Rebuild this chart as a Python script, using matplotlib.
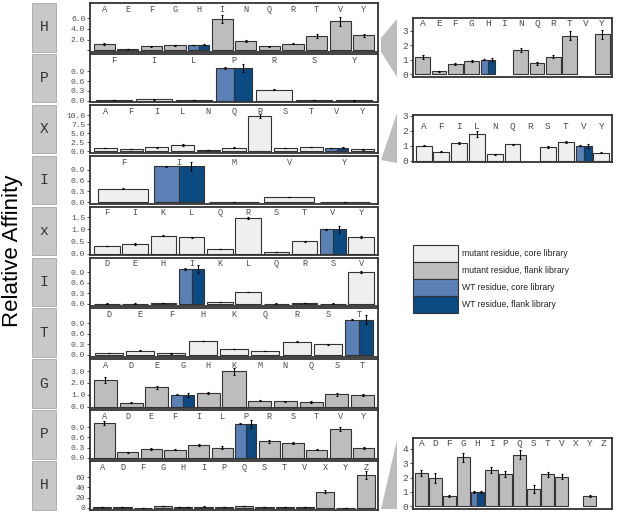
import matplotlib
matplotlib.use("Agg")
import matplotlib.pyplot as plt
from matplotlib.patches import Rectangle, Polygon
import matplotlib.transforms as mtrans
import numpy as np

# ---------------- data ----------------
strip_labels = ["H", "P", "X", "I", "x", "I", "T", "G", "P", "H"]

p1_cats = ["A", "E", "F", "G", "H", "I", "N", "Q", "R", "T", "V", "Y"]
p1_vals = [1.21, 0.21, 0.70, 0.91, 1.0, 5.88, 1.67, 0.74, 1.21, 2.67, 5.43, 2.77]
p1_errs = [0.15, 0.03, 0.10, 0.10, 0.12, 0.75, 0.15, 0.10, 0.12, 0.30, 0.80, 0.30]
p1_wt, p1_wt_err, p1_lib = "H", [0.05, 0.12], "flank"

p2_cats = ["F", "I", "L", "P", "R", "S", "Y"]
p2_vals = [0.03, 0.04, 0.03, 1.0, 0.34, 0.02, 0.01]
p2_errs = [0.005, 0.005, 0.005, 0.13, 0.02, 0.005, 0.005]
p2_wt, p2_wt_err, p2_lib = "P", [0.02, 0.13], "core"

p3_cats = ["A", "F", "I", "L", "N", "Q", "R", "S", "T", "V", "Y"]
p3_vals = [1.01, 0.62, 1.17, 1.77, 0.44, 1.10, 9.84, 0.93, 1.24, 1.0, 0.55]
p3_errs = [0.05, 0.05, 0.07, 0.20, 0.04, 0.05, 0.50, 0.05, 0.06, 0.12, 0.03]
p3_wt, p3_wt_err, p3_lib = "V", [0.03, 0.12], "core"

p4_cats = ["F", "I", "M", "V", "Y"]
p4_vals = [0.38, 1.0, 0.01, 0.14, 0.01]
p4_errs = [0.01, 0.13, 0.002, 0.01, 0.002]
p4_wt, p4_wt_err, p4_lib = "I", [0.01, 0.13], "core"

p5_cats = ["F", "I", "K", "L", "Q", "R", "S", "T", "V", "Y"]
p5_vals = [0.33, 0.41, 0.74, 0.68, 0.20, 1.47, 0.07, 0.51, 1.0, 0.68]
p5_errs = [0.01, 0.03, 0.02, 0.02, 0.01, 0.03, 0.01, 0.02, 0.13, 0.03]
p5_wt, p5_wt_err, p5_lib = "V", [0.02, 0.13], "core"

p6_cats = ["D", "E", "H", "I", "K", "L", "Q", "R", "S", "V"]
p6_vals = [0.01, 0.01, 0.02, 1.0, 0.05, 0.34, 0.01, 0.03, 0.01, 0.91]
p6_errs = [0.002, 0.002, 0.003, 0.12, 0.005, 0.01, 0.002, 0.004, 0.002, 0.02]
p6_wt, p6_wt_err, p6_lib = "I", [0.03, 0.12], "core"

p7_cats = ["D", "E", "F", "H", "K", "Q", "R", "S", "T"]
p7_vals = [0.05, 0.12, 0.04, 0.39, 0.17, 0.11, 0.37, 0.30, 1.0]
p7_errs = [0.004, 0.005, 0.004, 0.01, 0.005, 0.004, 0.01, 0.01, 0.13]
p7_wt, p7_wt_err, p7_lib = "T", [0.02, 0.13], "core"

p8_cats = ["A", "D", "E", "G", "H", "K", "M", "N", "Q", "S", "T"]
p8_vals = [2.26, 0.34, 1.63, 1.0, 1.17, 3.0, 0.49, 0.47, 0.40, 1.03, 0.97]
p8_errs = [0.25, 0.05, 0.15, 0.15, 0.10, 0.30, 0.05, 0.04, 0.10, 0.10, 0.10]
p8_wt, p8_wt_err, p8_lib = "G", [0.03, 0.15], "flank"

p9_cats = ["A", "D", "E", "F", "I", "L", "P", "R", "S", "T", "V", "Y"]
p9_vals = [1.02, 0.16, 0.26, 0.24, 0.36, 0.30, 1.0, 0.48, 0.42, 0.24, 0.85, 0.29]
p9_errs = [0.07, 0.02, 0.02, 0.02, 0.03, 0.03, 0.12, 0.04, 0.03, 0.02, 0.06, 0.03]
p9_wt, p9_wt_err, p9_lib = "P", [0.02, 0.12], "flank"

p10_cats = ["A", "D", "F", "G", "H", "I", "P", "Q", "S", "T", "V", "X", "Y", "Z"]
p10_vals = [2.31, 1.95, 0.71, 3.41, 1.0, 2.54, 2.24, 3.60, 1.20, 2.22, 2.07, 32.0, 0.72, 65.0]
p10_errs = [0.20, 0.35, 0.07, 0.30, 0.08, 0.22, 0.20, 0.30, 0.30, 0.20, 0.20, 3.0, 0.06, 8.0]
p10_wt, p10_wt_err, p10_lib = "H", [0.05, 0.08], "flank"

legend_labels = ["mutant residue, core library", "mutant residue, flank library",
                 "WT residue, core library", "WT residue, flank library"]

# ---------------- style ----------------
W, H = 617, 516
CORE = "#efefef"
FLANK = "#bdbdbd"
WT_CORE = "#5b80b6"
WT_FLANK = "#0b4a82"
EDGE = "#333333"
MONO = "Liberation Mono"
SANS = "Liberation Sans"
TXT = "#4d4d4d"

fig = plt.figure(figsize=(W / 100, H / 100), dpi=100)
fig.patch.set_facecolor("white")


def fbox(x0, y0, x1, y1):
    return [x0 / W, 1 - y1 / H, (x1 - x0) / W, (y1 - y0) / H]


def draw(ax, cats, vals, errs, wt, wt_err, lib, ylim, yticks, ylabels,
         letter_y=0.87, cutoff=None):
    n = len(cats)
    fill = CORE if lib == "core" else FLANK
    trans = mtrans.blended_transform_factory(ax.transData, ax.transAxes)
    ekw = dict(fmt="none", ecolor="black", elinewidth=0.8, capsize=1.0,
               capthick=0.8, zorder=4)
    for i, (c, v, e) in enumerate(zip(cats, vals, errs)):
        if c == wt:
            ax.bar(i - 0.225, v, width=0.45, color=WT_CORE, edgecolor=EDGE,
                   linewidth=0.8, zorder=3)
            ax.bar(i + 0.225, v, width=0.45, color=WT_FLANK, edgecolor=EDGE,
                   linewidth=0.8, zorder=3)
            ax.errorbar([i - 0.225, i + 0.225], [v, v], yerr=wt_err, **ekw)
        else:
            if cutoff is None or v <= cutoff:
                ax.bar(i, v, width=0.9, color=fill, edgecolor=EDGE,
                       linewidth=0.8, zorder=3)
                ax.errorbar([i], [v], yerr=[e], **ekw)
        ax.text(i, letter_y, c, transform=trans, ha="center", va="center",
                fontsize=6.2, family=MONO, color=TXT)
    ax.set_xlim(-0.6, n - 0.4)
    ax.set_ylim(*ylim)
    ax.set_xticks([])
    ax.set_yticks(yticks)
    ax.set_yticklabels(ylabels)
    ax.tick_params(axis="y", length=2.5, width=0.6, color="#333333", pad=1,
                   labelsize=5.8, labelcolor=TXT)
    for lab in ax.get_yticklabels():
        lab.set_family(MONO)
    for s in ax.spines.values():
        s.set_color("#333333")
        s.set_linewidth(1.3)
    ax.set_facecolor("white")


panels = [
    (p1_cats, p1_vals, p1_errs, p1_wt, p1_wt_err, p1_lib, (-0.26, 8.9), [0, 2, 4, 6], ["", "2.0", "4.0", "6.0"]),
    (p2_cats, p2_vals, p2_errs, p2_wt, p2_wt_err, p2_lib, (-0.05, 1.43), [0, 0.3, 0.6, 0.9], ["0.0", "0.3", "0.6", "0.9"]),
    (p3_cats, p3_vals, p3_errs, p3_wt, p3_wt_err, p3_lib, (-0.5, 12.9), [0, 2.5, 5, 7.5, 10], ["0.0", "2.5", "5.0", "7.5", "10.0"]),
    (p4_cats, p4_vals, p4_errs, p4_wt, p4_wt_err, p4_lib, (-0.06, 1.3), [0, 0.3, 0.6, 0.9], ["0.0", "0.3", "0.6", "0.9"]),
    (p5_cats, p5_vals, p5_errs, p5_wt, p5_wt_err, p5_lib, (-0.05, 1.93), [0, 0.5, 1.0, 1.5], ["0.0", "0.5", "1.0", "1.5"]),
    (p6_cats, p6_vals, p6_errs, p6_wt, p6_wt_err, p6_lib, (-0.06, 1.32), [0, 0.3, 0.6, 0.9], ["0.0", "0.3", "0.6", "0.9"]),
    (p7_cats, p7_vals, p7_errs, p7_wt, p7_wt_err, p7_lib, (-0.06, 1.32), [0, 0.3, 0.6, 0.9], ["0.0", "0.3", "0.6", "0.9"]),
    (p8_cats, p8_vals, p8_errs, p8_wt, p8_wt_err, p8_lib, (-0.1, 4.0), [0, 1, 2, 3], ["0.0", "1.0", "2.0", "3.0"]),
    (p9_cats, p9_vals, p9_errs, p9_wt, p9_wt_err, p9_lib, (-0.03, 1.40), [0, 0.3, 0.6, 0.9], ["0.0", "0.3", "0.6", "0.9"]),
    (p10_cats, p10_vals, p10_errs, p10_wt, p10_wt_err, p10_lib, (-3.3, 91.5), [0, 20, 40, 60], ["0", "20", "40", "60"]),
]

pitch = 50.9
ph = 48.5
for k, p in enumerate(panels):
    top = 3 + k * pitch
    ax = fig.add_axes(fbox(90, top, 378, top + ph))
    draw(ax, *p)
    # strip label box
    x0, y0, x1, y1 = 32, top, 56, top + ph
    fig.add_artist(Rectangle((x0 / W, 1 - y1 / H), (x1 - x0) / W, (y1 - y0) / H,
                             transform=fig.transFigure, facecolor="#c8c8c8",
                             edgecolor="#a8a8a8", linewidth=0.6))
    fig.text((x0 + x1) / 2 / W, 1 - (y0 + y1) / 2 / H, strip_labels[k],
             ha="center", va="center", fontsize=10.5, family=MONO, color="#333333")

# insets
ins1 = fig.add_axes(fbox(413, 18, 612, 77))
draw(ins1, p1_cats, p1_vals, p1_errs, p1_wt, p1_wt_err, p1_lib, (-0.2, 3.9),
     [0, 1, 2, 3], ["0", "1", "2", "3"], letter_y=0.9, cutoff=4)
ins2 = fig.add_axes(fbox(413, 115, 612, 162))
draw(ins2, p3_cats, p3_vals, p3_errs, p3_wt, p3_wt_err, p3_lib, (-0.07, 3.05),
     [0, 1, 2, 3], ["0", "1", "2", "3"], letter_y=0.76, cutoff=3)
ins3 = fig.add_axes(fbox(413, 438, 612, 509))
draw(ins3, p10_cats, p10_vals, p10_errs, p10_wt, p10_wt_err, p10_lib, (-0.2, 4.77),
     [0, 1, 2, 3, 4], ["0", "1", "2", "3", "4"], letter_y=0.92, cutoff=5)
for a in (ins1, ins2, ins3):
    a.tick_params(axis="y", labelsize=6.8)
    for t in a.texts:
        t.set_fontsize(6.8)

# connector wedges
def wedge(pts):
    fig.add_artist(Polygon([(x / W, 1 - y / H) for x, y in pts], closed=True,
                           transform=fig.transFigure, facecolor="#bdbdbd",
                           edgecolor="none"))

wedge([(381, 38), (397, 19), (397, 77), (381, 52)])
wedge([(381, 160), (397, 113), (397, 163)])
wedge([(381, 509), (397, 440), (397, 509)])

# legend
leg_fills = [CORE, FLANK, WT_CORE, WT_FLANK]
for i, (fc, lab) in enumerate(zip(leg_fills, legend_labels)):
    y0 = 245 + i * 17
    y1 = y0 + 17
    fig.add_artist(Rectangle((413 / W, 1 - y1 / H), 45 / W, 17 / H,
                             transform=fig.transFigure, facecolor=fc,
                             edgecolor=EDGE, linewidth=0.8))
    fig.text(462 / W, 1 - (y0 + y1) / 2 / H, lab, ha="left", va="center",
             fontsize=6.2, family=SANS, color="#222222")

fig.text(13 / W, 1 - 251 / H, "Relative Affinity", rotation=90, ha="center",
         va="center", fontsize=16, family=SANS, color="black")

fig.savefig("out.png", dpi=100, facecolor="white")
